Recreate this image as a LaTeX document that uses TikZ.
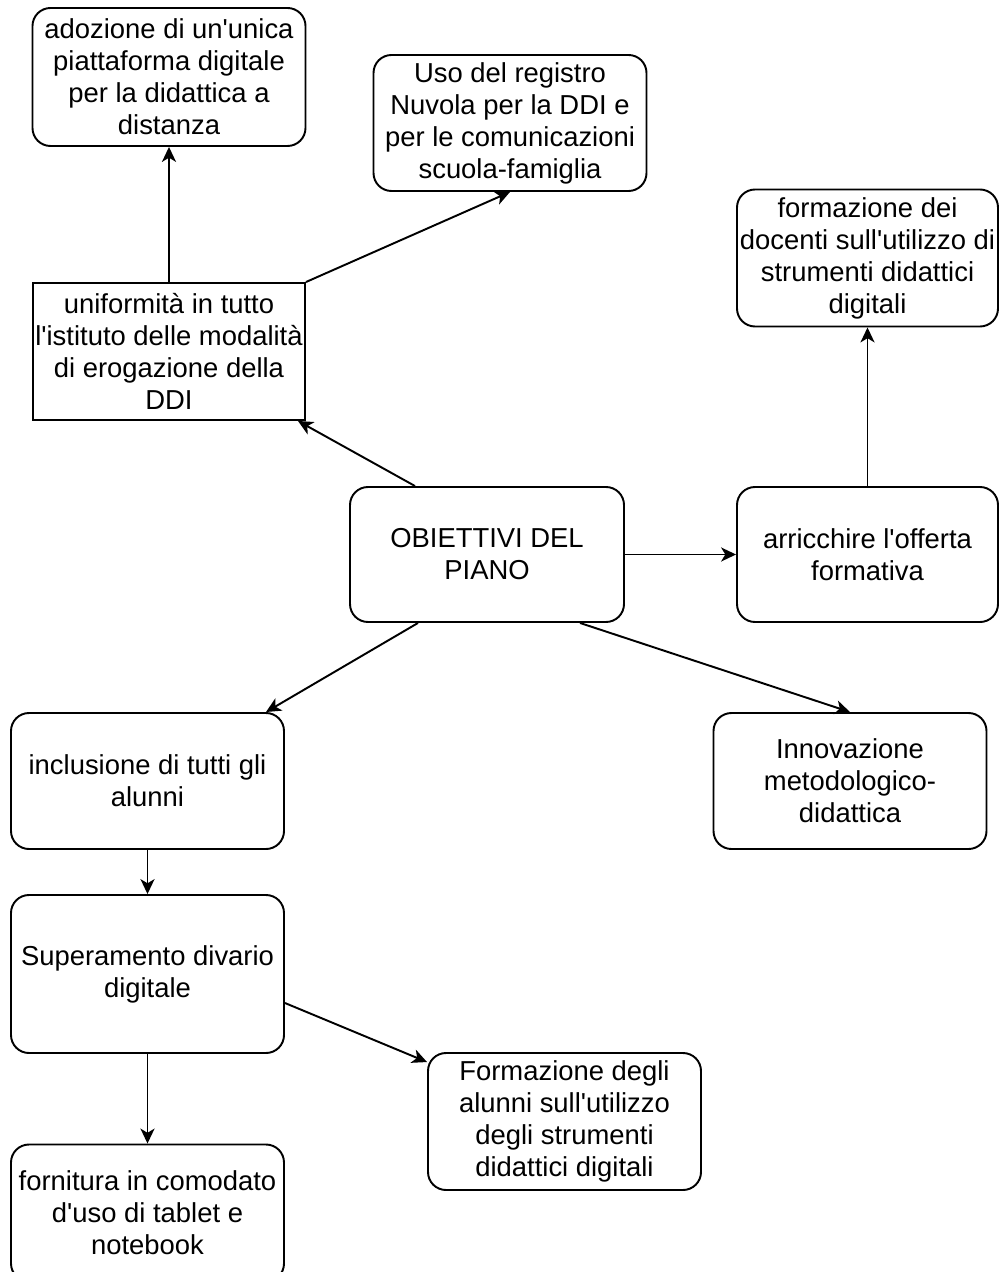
\documentclass[tikz,border=0pt]{standalone}
\usepackage{fontspec}
\newfontfamily\boxfont{Liberation Sans}
\usepackage{tikz}
\usetikzlibrary{arrows.meta,shapes,calc}
\usetikzlibrary{positioning}
\tikzset{
    %Define standard arrow tip
    >={Stealth[length=8.5pt,width=8pt,inset=2.4pt]},
    % Define box styles
    rbox/.style={
           draw,
           line width=1.1pt,
           rounded corners=0.36cm,
           align=center,
           inner sep=0pt,
           minimum width=5.46cm,
           minimum height=2.72cm,
           font=\boxfont\fontsize{15.6}{18.2}\selectfont,
           },
    sbox/.style={
           rbox,
           rounded corners=0pt,
           },
    % Define arrow style
    pil/.style={
           ->,
           line width=1.1pt,
           },
}
\begin{document}
\begin{tikzpicture}
  	\useasboundingbox (0,0) rectangle (20,-25.44);
  	\node (a) at (3.38,-1.54) [rbox,minimum height=2.76cm] {adozione di un'unica\\piattaforma digitale\\per la didattica a\\distanza};
  	\node (b) at (10.2,-2.46) [rbox] {Uso del registro\\Nuvola per la DDI e\\per le comunicazioni\\scuola-famiglia};
  	\node (c) at (17.35,-5.16) [rbox,minimum width=5.22cm,minimum height=2.74cm] {formazione dei\\docenti sull'utilizzo di\\strumenti didattici\\digitali};
  	\node (d) at (3.38,-7.03) [sbox,minimum width=5.44cm,minimum height=2.74cm] {uniformità in tutto\\l'istituto delle modalità\\di erogazione della\\DDI};
  	\node (e) at (9.74,-11.09) [rbox,minimum width=5.48cm,minimum height=2.7cm] {OBIETTIVI DEL\\PIANO};
  	\node (f) at (17.35,-11.09) [rbox,minimum width=5.22cm,minimum height=2.7cm] {arricchire l'offerta\\formativa};
  	\node (g) at (2.95,-15.62) [rbox] {inclusione di tutti gli\\alunni};
  	\node (h) at (17.0,-15.62) [rbox] {Innovazione\\metodologico-\\didattica};
  	\node (i) at (2.95,-19.48) [rbox,minimum height=3.16cm] {Superamento divario\\digitale};
  	\node (j) at (11.29,-22.43) [rbox,minimum height=2.74cm] {Formazione degli\\alunni sull'utilizzo\\degli strumenti\\didattici digitali};
  	\node (k) at (2.95,-24.26) [rbox,minimum height=2.74cm] {fornitura in comodato\\d'uso di tablet e\\notebook};
  	\draw [pil] (d) -- (a);
  	\draw [pil] (d.north east) -- (b.south);
  	\draw [pil] ([xshift=-1.44cm]e.north) -- ([xshift=-0.16cm]d.south east);
  	\draw [pil] (e) -- (f);
  	\draw [pil] (f) -- (c);
  	\draw [pil] ([xshift=-1.38cm]e.south) -- ([xshift=-0.38cm]g.north east);
  	\draw [pil] ([xshift=1.86cm]e.south) -- (h.north);
  	\draw [pil] (g) -- (i);
  	\draw [pil] (i) -- (k);
  	\draw [pil] ([yshift=-0.58cm]i.east) -- ([yshift=-0.2cm]j.north west);
\end{tikzpicture}
\end{document}
